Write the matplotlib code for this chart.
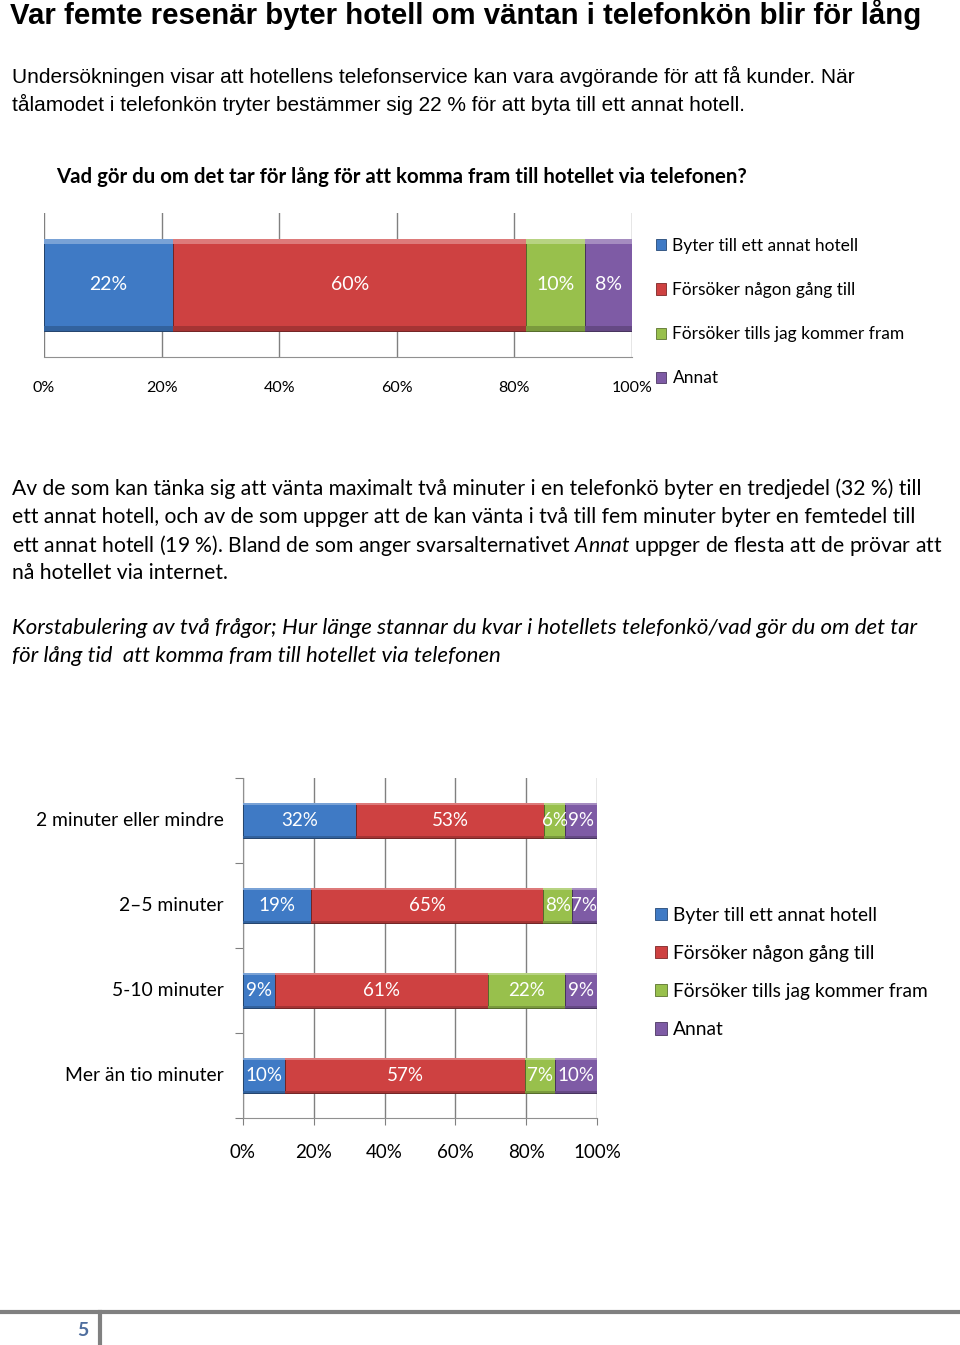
import matplotlib.pyplot as plt
import numpy as np
from matplotlib.patches import Patch
from matplotlib.lines import Line2D
from matplotlib.colors import to_rgb

series = ["Byter till ett annat hotell", "Försöker någon gång till",
          "Försöker tills jag kommer fram", "Annat"]
colors = ["#3F7AC5", "#CE4141", "#98C04C", "#7E5BA5"]

# chart 1: one row
top_values = [22, 60, 10, 8]

# chart 2: rows = waiting time, columns = series
rows = ["2 minuter eller mindre", "2–5 minuter", "5-10 minuter", "Mer än tio minuter"]
blue_vals = [32, 19, 9, 10]
red_vals = [53, 65, 61, 57]
green_vals = [6, 8, 22, 7]
purple_vals = [9, 7, 9, 10]

ticks = [0, 20, 40, 60, 80, 100]
tick_labels = ["0%", "20%", "40%", "60%", "80%", "100%"]

W, H = 960, 1345
body = "Lato"
plt.rcParams["mathtext.fontset"] = "custom"
plt.rcParams["mathtext.rm"] = "Lato"
plt.rcParams["mathtext.it"] = "Lato:italic"
fig = plt.figure(figsize=(W / 100, H / 100), dpi=100)


def fy(py):
    return 1 - py / H


def txt(x, y, s, **kw):
    fig.text(x / W, fy(y), s, va="center", **kw)


def mix(c, other, t):
    a = np.array(to_rgb(c))
    return tuple(a * (1 - t) + np.array(other) * t)


def bevel_bar(ax, y, w, left, h, c):
    # plain bar plus a light top strip and dark bottom strip (office bevel look)
    ax.barh(y, w, left=left, height=h, color=c, edgecolor=mix(c, (0, 0, 0), 0.45),
            linewidth=0.7, zorder=3)
    s = h * 0.05
    ax.barh(np.asarray(y) - h / 2 + s / 2, w, left=left, height=s,
            color=mix(c, (1, 1, 1), 0.3), linewidth=0, zorder=3.5)
    ax.barh(np.asarray(y) + h / 2 - s / 2, w, left=left, height=s,
            color=mix(c, (0, 0, 0), 0.2), linewidth=0, zorder=3.5)


# header text
txt(10, 15, "Var femte resenär byter hotell om väntan i telefonkön blir för lång",
    family="Liberation Sans", weight="bold", fontsize=21.2)
txt(12, 76, "Undersökningen visar att hotellens telefonservice kan vara avgörande för att få kunder. När",
    family="Liberation Sans", fontsize=15.0)
txt(12, 104, "tålamodet i telefonkön tryter bestämmer sig 22 % för att byta till ett annat hotell.",
    family="Liberation Sans", fontsize=15.0)
txt(56, 177, "Vad gör du om det tar för lång för att komma fram till hotellet via telefonen?",
    family=body, weight="bold", fontsize=14.7)

para = ["Av de som kan tänka sig att vänta maximalt två minuter i en telefonkö byter en tredjedel (32 %) till",
        "ett annat hotell, och av de som uppger att de kan vänta i två till fem minuter byter en femtedel till",
        "ett annat hotell (19 %). Bland de som anger svarsalternativet $\\it{Annat}$ uppger de flesta att de prövar att",
        "nå hotellet via internet."]
for i, line in enumerate(para):
    txt(12, 489 + 28 * i, line, family=body, fontsize=15.2)
txt(12, 628, "Korstabulering av två frågor; Hur länge stannar du kvar i hotellets telefonkö/vad gör du om det tar",
    family=body, style="italic", fontsize=16)
txt(12, 656, "för lång tid  att komma fram till hotellet via telefonen",
    family=body, style="italic", fontsize=16)

# ---- chart 1 ----
ax1 = fig.add_axes([44 / W, fy(357), 588 / W, 144 / H])
left = 0
for v, c in zip(top_values, colors):
    bevel_bar(ax1, 0, v, left, 0.64, c)
    ax1.text(left + v / 2, 0, f"{v}%", color="white", ha="center", va="center",
             family=body, fontsize=14, zorder=4)
    left += v
ax1.set_xlim(0, 100)
ax1.set_ylim(0.5, -0.5)
ax1.set_xticks(ticks)
ax1.set_xticklabels(tick_labels, family=body, fontsize=11.5)
ax1.tick_params(axis="x", length=0, pad=17)
ax1.set_yticks([])
ax1.grid(axis="x", color="#808080", linewidth=1, zorder=0)
for s in ["top", "left", "right"]:
    ax1.spines[s].set_visible(False)
ax1.spines["bottom"].set_color("#909090")

handles = [Patch(facecolor=c, edgecolor=mix(c, (0, 0, 0), 0.4), linewidth=0.6) for c in colors]
fig.legend(handles, series, loc="upper left", bbox_to_anchor=(656 / W, fy(238)),
           frameon=False, prop={"family": body, "size": 12.5},
           handlelength=0.6, handleheight=0.6, handletextpad=0.35, labelspacing=1.62,
           borderaxespad=0, borderpad=0)

# ---- chart 2 ----
ax2 = fig.add_axes([243 / W, fy(1118), 354 / W, 340 / H])
data = np.array([blue_vals, red_vals, green_vals, purple_vals], dtype=float).T
shares = data / data.sum(axis=1, keepdims=True) * 100
y = np.arange(len(rows))
lefts = np.zeros(len(rows))
for j, c in enumerate(colors):
    bevel_bar(ax2, y, shares[:, j], lefts, 0.41, c)
    for i in range(len(rows)):
        ax2.text(lefts[i] + shares[i, j] / 2, y[i], f"{int(data[i, j])}%", color="white",
                 ha="center", va="center", family=body, fontsize=13.5, zorder=4)
    lefts += shares[:, j]
ax2.set_xlim(0, 100)
ax2.set_ylim(len(rows) - 0.5, -0.5)
ax2.set_xticks(ticks)
ax2.set_xticklabels(tick_labels, family=body, fontsize=13.5)
ax2.tick_params(axis="x", length=5, color="#808080", pad=14, direction="out")
ax2.set_yticks(np.arange(len(rows) + 1) - 0.5)
ax2.set_yticklabels([])
ax2.tick_params(axis="y", length=6, color="#808080", direction="out")
for i, r in enumerate(rows):
    ax2.text(-5.5, i, r, ha="right", va="center", family=body, fontsize=13.9)
ax2.grid(axis="x", color="#808080", linewidth=1, zorder=0)
for s in ["top", "right"]:
    ax2.spines[s].set_visible(False)
ax2.spines["bottom"].set_color("#909090")
ax2.spines["left"].set_color("#909090")

fig.legend(handles, series, loc="upper left", bbox_to_anchor=(655 / W, fy(907)),
           frameon=False, prop={"family": body, "size": 13.8},
           handlelength=0.6, handleheight=0.6, handletextpad=0.35, labelspacing=1.1,
           borderaxespad=0, borderpad=0)

# footer
fig.add_artist(Line2D([0, 1], [fy(1312), fy(1312)], color="#808080", linewidth=3))
fig.add_artist(Line2D([100 / W, 100 / W], [fy(1312), 0], color="#808080", linewidth=3))
txt(83, 1330, "5", family=body, weight="bold", color="#4F6E9E", fontsize=14, ha="center")

fig.savefig("out.png", dpi=100)
